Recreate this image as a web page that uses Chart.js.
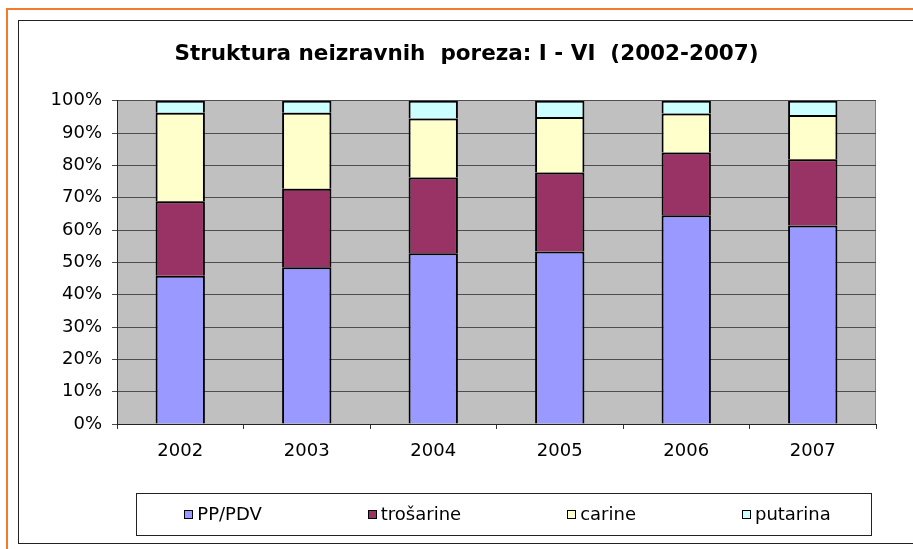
<!DOCTYPE html>
<html>
<head>
<meta charset="utf-8">
<script src="https://cdn.jsdelivr.net/npm/chart.js@4/dist/chart.umd.min.js"></script>
<style>
  html, body { margin: 0; padding: 0; background: #fff; overflow: hidden; }
  #wrap { position: relative; width: 913px; height: 549px; }
  #orange { position: absolute; left: 6px; top: 8px; width: 1000px; height: 1000px;
            border-left: 2px solid #f47b2c; border-top: 2px solid #f47b2c; }
  #frame { position: absolute; left: 18px; top: 20px; width: 1000px; height: 522px;
           border: 1px solid #222; }
  #chart { position: absolute; left: 0; top: 0; }
</style>
</head>
<body>
<div id="wrap">
  <div id="orange"></div>
  <div id="frame"></div>
  <canvas id="chart" width="913" height="549"></canvas>
</div>
<script>
// godine
const years = ['2002', '2003', '2004', '2005', '2006', '2007'];

// udjeli u %
const ppPdv     = [45.9, 48.5, 52.8, 53.4, 64.6, 61.4];
const trosarine = [23.0, 24.3, 23.5, 24.4, 19.4, 20.5];
const carine    = [27.4, 23.5, 18.2, 17.2, 12.1, 13.7];
const putarina  = [3.7, 3.7, 5.5, 5.0, 3.9, 4.4];

const seriesNames = ['PP/PDV', 'trošarine', 'carine', 'putarina'];
const seriesColors = ['#9999ff', '#993366', '#ffffcc', '#ccffff'];

// sirok font, kao u originalu (razvucen Arial)
const FONT = '"DejaVu Sans", sans-serif';

// siva pozadina plot area
const plotBg = {
    id: 'plotBg',
    beforeDraw(chart) {
        const { ctx, chartArea: a } = chart;
        ctx.save();
        ctx.fillStyle = '#c0c0c0';
        ctx.fillRect(a.left, a.top, a.right - a.left, a.bottom - a.top);
        ctx.strokeStyle = '#808080';
        ctx.lineWidth = 1;
        ctx.beginPath();
        ctx.moveTo(a.right - 0.5, a.top);
        ctx.lineTo(a.right - 0.5, a.bottom);
        ctx.stroke();
        ctx.restore();
    }
};

// legenda u okviru ispod grafa
const boxLegend = {
    id: 'boxLegend',
    afterDraw(chart) {
        const { ctx, chartArea: a } = chart;
        const boxLeft = a.left + 19, boxRight = a.right - 5;
        const boxTop = a.bottom + 69, boxH = 42;
        ctx.save();
        ctx.strokeStyle = '#222';
        ctx.lineWidth = 1;
        ctx.strokeRect(boxLeft + 0.5, boxTop + 0.5, boxRight - boxLeft, boxH);

        ctx.font = '18px ' + FONT;
        ctx.textBaseline = 'middle';
        const gap = 106, sq = 9, txtOff = 13;
        const widths = chart.data.datasets.map(ds => txtOff + ctx.measureText(ds.label).width);
        const total = widths.reduce((s, w) => s + w, 0) + gap * (widths.length - 1);
        let x = (boxLeft + boxRight) / 2 - total / 2 + 4;
        const cy = boxTop + boxH / 2;
        chart.data.datasets.forEach((ds, i) => {
            ctx.fillStyle = ds.backgroundColor;
            ctx.fillRect(Math.round(x), Math.round(cy - sq / 2), sq, sq);
            ctx.strokeStyle = '#000';
            ctx.strokeRect(Math.round(x) + 0.5, Math.round(cy - sq / 2) + 0.5, sq - 1, sq - 1);
            ctx.fillStyle = '#000';
            ctx.fillText(ds.label, x + txtOff, cy + 1);
            x += widths[i] + gap;
        });
        ctx.restore();
    }
};

const seriesData = [ppPdv, trosarine, carine, putarina];

new Chart(document.getElementById('chart'), {
    type: 'bar',
    data: {
        labels: years,
        datasets: seriesData.map((d, i) => ({
            label: seriesNames[i],
            data: d,
            backgroundColor: seriesColors[i],
            borderColor: '#000',
            borderWidth: 2,
            categoryPercentage: 1,
            barPercentage: 0.39,
            yAxisID: 'y'
        }))
    },
    options: {
        responsive: false,
        animation: false,
        layout: { padding: { left: 20, right: 0, top: 0, bottom: 85 } },
        plugins: {
            legend: { display: false },
            tooltip: { enabled: false },
            title: {
                display: true,
                text: 'Struktura neizravnih  poreza: I - VI  (2002-2007)',
                color: '#000',
                font: { family: FONT, size: 21.5, weight: 'bold' },
                padding: { top: 42, bottom: 33 }
            }
        },
        scales: {
            x: {
                stacked: true,
                grid: {
                    offset: true,
                    drawOnChartArea: false,
                    drawTicks: true,
                    tickLength: 5,
                    color: '#333'
                },
                border: { color: '#222', width: 1 },
                ticks: { color: '#000', font: { family: FONT, size: 18 }, padding: 12 },
                afterFit(scale) { scale.height = 40; }
            },
            y: {
                stacked: true,
                min: 0,
                max: 100,
                grid: { color: '#4d4d4d', lineWidth: 1, tickLength: 5 },
                border: { color: '#222', width: 1 },
                ticks: {
                    stepSize: 10,
                    color: '#000',
                    padding: 10,
                    font: { family: FONT, size: 18 },
                    callback: v => v + '%'
                },
                afterFit(scale) { scale.width = 97; }
            },
            // prazan prostor desno od grafa
            yRight: {
                position: 'right',
                grid: { display: false },
                border: { display: false },
                ticks: { display: false },
                afterFit(scale) { scale.width = 37; }
            }
        }
    },
    plugins: [plotBg, boxLegend]
});
</script>
</body>
</html>
